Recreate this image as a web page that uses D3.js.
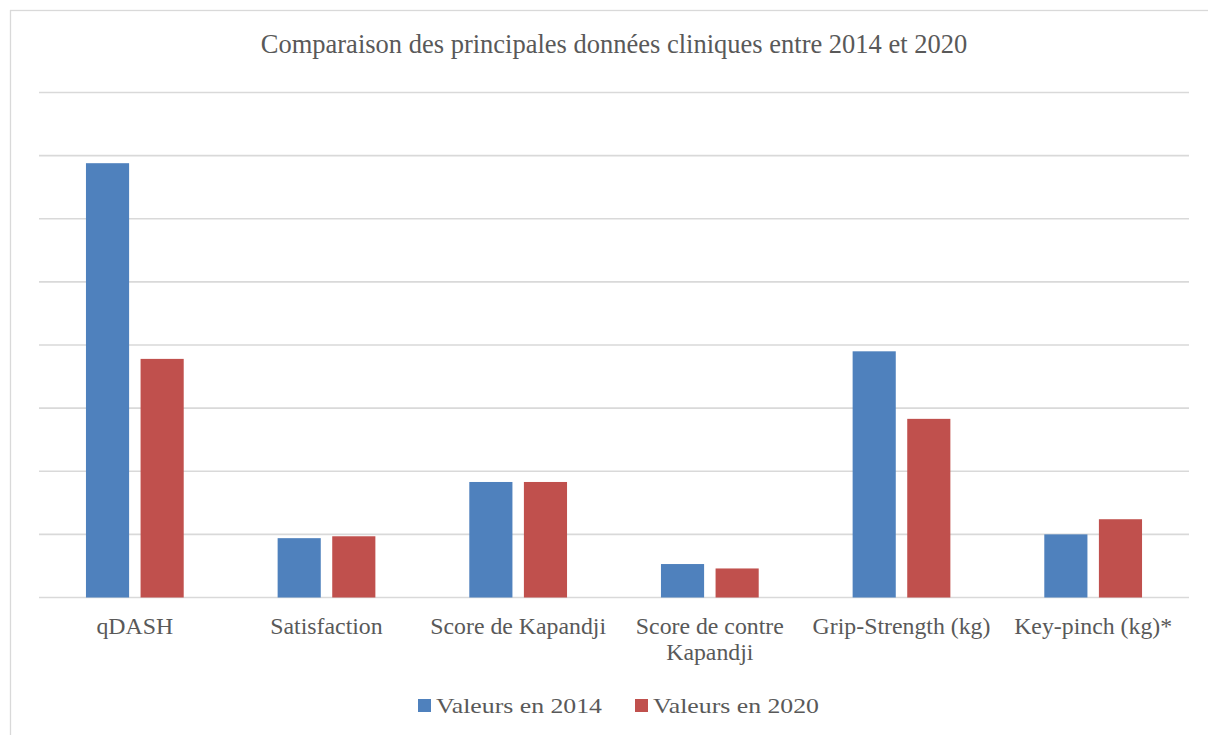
<!DOCTYPE html>
<html>
<head>
<meta charset="utf-8">
<script src="https://cdn.jsdelivr.net/npm/d3@7"></script>
<style>
  html, body { margin: 0; padding: 0; background: #fff; }
</style>
</head>
<body>
<script>
const categories = ['qDASH', 'Satisfaction', 'Score de Kapandji', 'Score de contre Kapandji', 'Grip-Strength (kg)', 'Key-pinch (kg)*'];
const seriesNames = ['Valeurs en 2014', 'Valeurs en 2020'];
const values2014 = [34.4, 4.7, 9.15, 2.65, 19.5, 5.0];
const values2020 = [18.9, 4.85, 9.15, 2.3, 14.15, 6.2];
const yTicks = [0, 5, 10, 15, 20, 25, 30, 35, 40];
const colors = ['#4f81bd', '#c0504d'];

const width = 1208, height = 735;
const plot = { left: 39, right: 1189, top: 92.5, bottom: 597.5 };
const textColor = '#595959';

const svg = d3.select('body').append('svg')
    .attr('width', width)
    .attr('height', height);

// chart frame
svg.append('rect')
    .attr('x', 10.5).attr('y', 10.5)
    .attr('width', width + 20).attr('height', height + 20)
    .attr('fill', '#fff')
    .attr('stroke', '#d9d9d9')
    .attr('stroke-width', 1.3);

const x0 = d3.scaleBand().domain(categories).range([plot.left, plot.right]);
const x1 = d3.scaleBand().domain(seriesNames).range([0, x0.bandwidth()]).paddingInner(0.21).paddingOuter(0.86);
const y = d3.scaleLinear().domain([0, 40]).range([plot.bottom, plot.top]);

// title
svg.append('text')
    .attr('x', (plot.left + plot.right) / 2)
    .attr('y', 53)
    .attr('text-anchor', 'middle')
    .attr('font-family', '"Liberation Serif", "Times New Roman", serif')
    .attr('font-size', 26.5)
    .attr('fill', textColor)
    .text('Comparaison des principales données cliniques entre 2014 et 2020');

// gridlines
svg.append('g')
    .selectAll('line')
    .data(yTicks)
    .join('line')
    .attr('x1', plot.left).attr('x2', plot.right)
    .attr('y1', (d) => y(d)).attr('y2', (d) => y(d))
    .attr('stroke', '#d9d9d9')
    .attr('stroke-width', 1.6);

// bars
const rows = categories.map((c, i) => ({ cat: c, vals: [values2014[i], values2020[i]] }));
const groups = svg.append('g')
    .selectAll('g')
    .data(rows)
    .join('g')
    .attr('transform', (d) => 'translate(' + x0(d.cat) + ',0)');
groups.selectAll('rect')
    .data((d) => d.vals.map((v, j) => ({ key: seriesNames[j], value: v, j })))
    .join('rect')
    .attr('x', (d) => x1(d.key))
    .attr('width', x1.bandwidth())
    .attr('y', (d) => y(d.value))
    .attr('height', (d) => y(0) - y(d.value))
    .attr('fill', (d) => colors[d.j]);

// category labels with wrapping
const labels = svg.append('g')
    .selectAll('text')
    .data(categories)
    .join('text')
    .attr('x', (d) => x0(d) + x0.bandwidth() / 2)
    .attr('y', 634)
    .attr('text-anchor', 'middle')
    .attr('font-family', '"Liberation Serif", "Times New Roman", serif')
    .attr('font-size', 23.8)
    .attr('fill', textColor);

labels.each(function (d) {
    const t = d3.select(this);
    const words = d.split(' ');
    let line = [];
    let tspan = t.append('tspan').attr('x', t.attr('x')).attr('dy', 0);
    words.forEach((w) => {
        line.push(w);
        tspan.text(line.join(' '));
        if (tspan.node().getComputedTextLength() > x0.bandwidth() - 10 && line.length > 1) {
            line.pop();
            tspan.text(line.join(' '));
            line = [w];
            tspan = t.append('tspan').attr('x', t.attr('x')).attr('dy', 26).text(w);
        }
    });
});

// legend
const legend = svg.append('g');
const legendX = [418, 635];
seriesNames.forEach((s, i) => {
    legend.append('rect')
        .attr('x', legendX[i]).attr('y', 699)
        .attr('width', 13).attr('height', 13)
        .attr('fill', colors[i]);
    legend.append('text')
        .attr('x', legendX[i] + 18)
        .attr('y', 713)
        .attr('font-family', '"Liberation Serif", serif')
        .attr('font-size', 21.5)
        .attr('textLength', 166)
        .attr('lengthAdjust', 'spacingAndGlyphs')
        .attr('fill', textColor)
        .text(s);
});
</script>
</body>
</html>
